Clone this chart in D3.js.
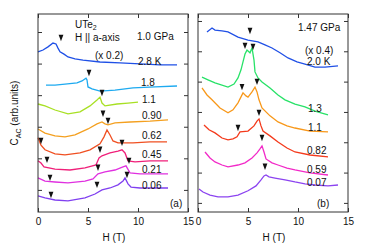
<!DOCTYPE html>
<meta charset="utf-8">
<style>
body { margin: 0; background: #fff; }
text { font-family: "Liberation Sans", Arial, sans-serif; font-size: 10px; fill: #111; }
.curve { fill: none; stroke-width: 1.3px; }
.frame { fill: none; stroke: #333; stroke-width: 1px; }
</style>
<svg width="374" height="250"></svg>
<script src="https://d3js.org/d3.v7.min.js"></script>
<script>

// x ticks shared by both panels
let xTicks = [0, 5, 10, 15];
let leftYTicks = [0, 1, 2, 3, 4, 5];
let rightYTicks = [0, 1, 2, 3, 4, 5, 6];

// ---- panel (a): 1.0 GPa ----
let aLabels = ["2.8 K", "1.8", "1.1", "0.90", "0.62", "0.45", "0.21", "0.06"];
let aColors = ["#1f50e6", "#1eaaf0", "#a8e024", "#f4a020", "#f05022", "#f0207a", "#e030e0", "#8040f0"];
let aH = [
  [0,0.5,1.0,1.5,1.8,2.0,2.2,2.6,3.0,3.7,4.5,6.2,8.2,10.2,12.2,13.9],
  [0.8,1.7,2.7,3.9,4.4,4.8,4.9,5.0,5.4,6.2,7.7,9.5,11.7,13.9],
  [0,0.7,1.7,3.0,4.2,5.2,5.9,6.2,6.4,6.7,7.9,9.0,10.0],
  [0,0.7,1.7,2.7,3.7,5.0,5.9,6.4,6.7,7.0,7.7,9.2,11.2,13.0],
  [0,0.3,0.7,1.7,2.7,4.2,5.2,6.2,6.6,6.9,7.2,7.5,8.0,9.5,11.2,12.9],
  [0,0.3,0.6,1.7,3.2,4.7,5.8,6.1,6.4,7.2,8.0,8.4,8.7,9.0,9.7,11.2,13.0],
  [0,0.7,1.7,3.0,4.7,5.5,6.0,6.7,7.7,8.5,8.8,9.2,10.2,13.0],
  [0,0.7,1.7,3.0,4.7,5.7,6.4,7.2,8.0,8.5,8.7,9.0,9.3,10.2,13.0]
];
let aC = [
  [4.37,4.43,4.53,4.65,4.62,4.49,4.37,4.30,4.21,4.15,4.11,4.05,4.02,3.99,3.96,3.96],
  [3.32,3.32,3.35,3.39,3.45,3.54,3.48,3.26,3.20,3.13,3.16,3.23,3.26,3.29],
  [2.72,2.66,2.53,2.41,2.47,2.66,2.85,2.94,2.75,2.66,2.72,2.75,2.78],
  [1.93,1.80,1.71,1.68,1.74,1.93,2.09,2.15,2.09,2.06,2.12,2.15,2.18,2.22],
  [1.65,1.42,1.27,1.14,1.11,1.17,1.27,1.46,1.68,1.90,1.74,1.55,1.49,1.49,1.52,1.52],
  [0.92,0.85,0.73,0.66,0.63,0.70,0.79,1.01,1.08,1.17,1.23,1.27,1.17,0.92,0.89,0.92,0.92],
  [0.38,0.28,0.25,0.22,0.28,0.35,0.51,0.57,0.63,0.73,0.76,0.54,0.51,0.51],
  [-0.19,-0.25,-0.32,-0.35,-0.25,-0.13,0,0.06,0.16,0.28,0.38,0.19,0.09,0.06,0.06]
];
let aMarkH = [[2.3],[5.1],[6.4],[6.5],[0.3,7.0],[0.9,6.2,8.4],[1.2,6.0,9.1],[1.3,5.9,8.9]];
let aMarkC = [[4.81],[3.70],[3.07],[2.41],[1.55,2.18],[0.95,1.27,1.49],[0.38,0.70,0.92],[-0.16,0.16,0.47]];

// ---- panel (b): 1.47 GPa ----
let bLabels = ["2.0 K", "1.3", "1.1", "0.82", "0.59", "0.07"];
let bColors = ["#2050e6", "#28e268", "#f8981a", "#f43a1c", "#f22ac8", "#8c44f0"];
let bH = [
  [0.9,1.4,1.7,2.4,3.0,4.0,5.0,6.0,6.7,7.4,8.2,9.0,9.9,10.7,11.7,12.7,14.0],
  [0.4,1.0,1.7,3.0,3.6,4.0,4.3,4.5,4.7,4.9,5.2,5.4,5.6,5.7,6.0,6.4,7.2,8.0,8.7,9.7,10.7,11.7,13.0],
  [0.4,0.9,1.4,2.2,3.0,3.5,4.0,4.5,4.8,5.0,5.4,5.7,5.9,6.1,6.4,7.2,8.0,8.9,9.7,11.2,13.0],
  [0.6,1.1,1.7,2.4,3.0,3.5,3.9,4.2,5.0,5.6,5.9,6.1,6.3,6.5,7.2,8.0,8.9,9.7,11.2,13.0],
  [0.7,1.2,1.7,2.4,3.0,4.0,4.7,5.4,5.9,6.2,6.4,6.6,6.8,7.4,8.0,8.9,9.7,11.2,13.0],
  [0.1,0.5,1.2,2.0,3.0,4.0,5.0,5.8,6.3,6.6,6.8,7.1,7.7,8.7,9.7,10.7,11.7,13.0,14.0]
];
let bC = [
  [5.64,5.77,5.70,5.67,5.64,5.47,5.37,5.31,5.21,5.11,4.95,4.78,4.65,4.58,4.48,4.48,4.52],
  [4.15,4.06,3.96,3.82,3.92,4.12,4.39,4.65,4.91,5.04,4.95,5.11,4.71,4.32,4.12,3.99,3.79,3.56,3.40,3.26,3.17,3.03,2.90],
  [3.79,3.56,3.40,3.13,2.97,3.07,3.30,3.63,3.53,3.49,3.66,3.82,3.66,3.40,3.13,2.87,2.67,2.54,2.47,2.37,2.34],
  [2.57,2.41,2.31,2.14,2.08,2.11,2.18,2.34,2.37,2.54,2.70,2.77,2.54,2.37,2.21,2.01,1.81,1.68,1.58,1.52],
  [1.68,1.48,1.35,1.25,1.19,1.25,1.32,1.48,1.65,1.78,1.88,1.68,1.45,1.32,1.25,1.15,1.09,0.99,0.92],
  [0.46,0.36,0.26,0.20,0.20,0.26,0.40,0.56,0.76,0.89,0.92,0.86,0.82,0.76,0.69,0.63,0.59,0.56,0.59]
];
let bMarkH = [[5.2],[4.7,5.5],[4.4,5.9],[4.0,6.1],[6.4],[6.7]];
let bMarkC = [[5.67],[5.18,5.14],[3.82,3.99],[2.47,2.97],[2.14],[1.19]];

let svg = d3.select("svg");
let plotTop = 14, plotBottom = 212;

function panel(opt) {
  let x = d3.scaleLinear().domain([0, 15]).range([opt.x0, opt.x1]);
  let y = d3.scaleLinear().domain(opt.yDomain).range([plotBottom, plotTop]);
  let g = svg.append("g");

  let line = d3.line().x(d => x(d[0])).y(d => y(d[1]));
  opt.H.forEach(function(hs, i) {
    let pts = hs.map((h, j) => [h, opt.C[i][j]]);
    g.append("path").attr("class", "curve")
      .attr("stroke", opt.colors[i])
      .attr("d", line(pts));
  });

  // markers (down triangles)
  opt.mH.forEach(function(hs, i) {
    hs.forEach(function(h, j) {
      g.append("path")
        .attr("d", "M-2.4,-3.2L2.4,-3.2L0,3.2Z")
        .attr("fill", "#111")
        .attr("transform", "translate(" + x(h) + "," + y(opt.mC[i][j]) + ")");
    });
  });

  // axes with inward ticks on all sides
  g.append("g").attr("transform", "translate(0," + plotBottom + ")")
    .call(d3.axisBottom(x).tickValues(xTicks).tickSizeInner(-4).tickSizeOuter(0).tickPadding(6))
    .call(a => a.select(".domain").remove());
  g.append("g").attr("transform", "translate(0," + plotTop + ")")
    .call(d3.axisTop(x).tickValues(xTicks).tickSizeInner(-4).tickSizeOuter(0).tickFormat(""))
    .call(a => a.select(".domain").remove());
  g.append("g").attr("transform", "translate(" + opt.x0 + ",0)")
    .call(d3.axisLeft(y).tickValues(opt.yTicks).tickSizeInner(-4).tickSizeOuter(0).tickFormat(""))
    .call(a => a.select(".domain").remove());
  g.append("g").attr("transform", "translate(" + opt.x1 + ",0)")
    .call(d3.axisRight(y).tickValues(opt.yTicks).tickSizeInner(-4).tickSizeOuter(0).tickFormat(""))
    .call(a => a.select(".domain").remove());
  g.selectAll(".tick line").attr("stroke", "#333");
  g.selectAll(".tick text").style("font-size", "10px").attr("fill", "#111")
    .style("font-family", "'Liberation Sans', Arial, sans-serif");

  g.append("rect").attr("class", "frame")
    .attr("x", opt.x0).attr("y", plotTop)
    .attr("width", opt.x1 - opt.x0).attr("height", plotBottom - plotTop);

  g.append("text").attr("x", (opt.x0 + opt.x1) / 2 + 1).attr("y", 241)
    .attr("text-anchor", "middle").text("H (T)");

  opt.labels.forEach(function(t, i) {
    g.append("text").attr("x", opt.labelPos[i][0]).attr("y", opt.labelPos[i][1]).text(t);
  });
  return g;
}

let ga = panel({
  x0: 38, x1: 188, yDomain: [-0.7, 5.57], yTicks: leftYTicks,
  H: aH, C: aC, colors: aColors, mH: aMarkH, mC: aMarkC,
  labels: aLabels,
  labelPos: [[138,65],[141,86],[142,103],[142,119],[142,139],[142,158],[142,173],[142,189]]
});
let gb = panel({
  x0: 198, x1: 348, yDomain: [-0.3, 6.23], yTicks: rightYTicks,
  H: bH, C: bC, colors: bColors, mH: bMarkH, mC: bMarkC,
  labels: bLabels,
  labelPos: [[307,65],[308,112],[308,131],[307,154],[307,173],[307,186]]
});

// panel (a) annotations
let ut = ga.append("text").attr("x", 75).attr("y", 28);
ut.append("tspan").text("UTe");
ut.append("tspan").attr("dy", 2).style("font-size", "7px").text("2");
ga.append("text").attr("x", 75).attr("y", 41).text("H || a-axis");
ga.append("text").attr("x", 137).attr("y", 40).text("1.0 GPa");
ga.append("text").attr("x", 95).attr("y", 59).text("(x 0.2)");
ga.append("text").attr("x", 170).attr("y", 207).text("(a)");

// panel (b) annotations
gb.append("text").attr("x", 298).attr("y", 31).text("1.47 GPa");
gb.append("text").attr("x", 305).attr("y", 54).text("(x 0.4)");
gb.append("text").attr("x", 317).attr("y", 207).text("(b)");

// y axis title
let yt = svg.append("text").attr("transform", "translate(18,113) rotate(-90)")
  .attr("text-anchor", "middle");
yt.append("tspan").text("C");
yt.append("tspan").attr("dy", 3).style("font-size", "7px").text("AC");
yt.append("tspan").attr("dy", -3).text(" (arb.units)");

</script>
